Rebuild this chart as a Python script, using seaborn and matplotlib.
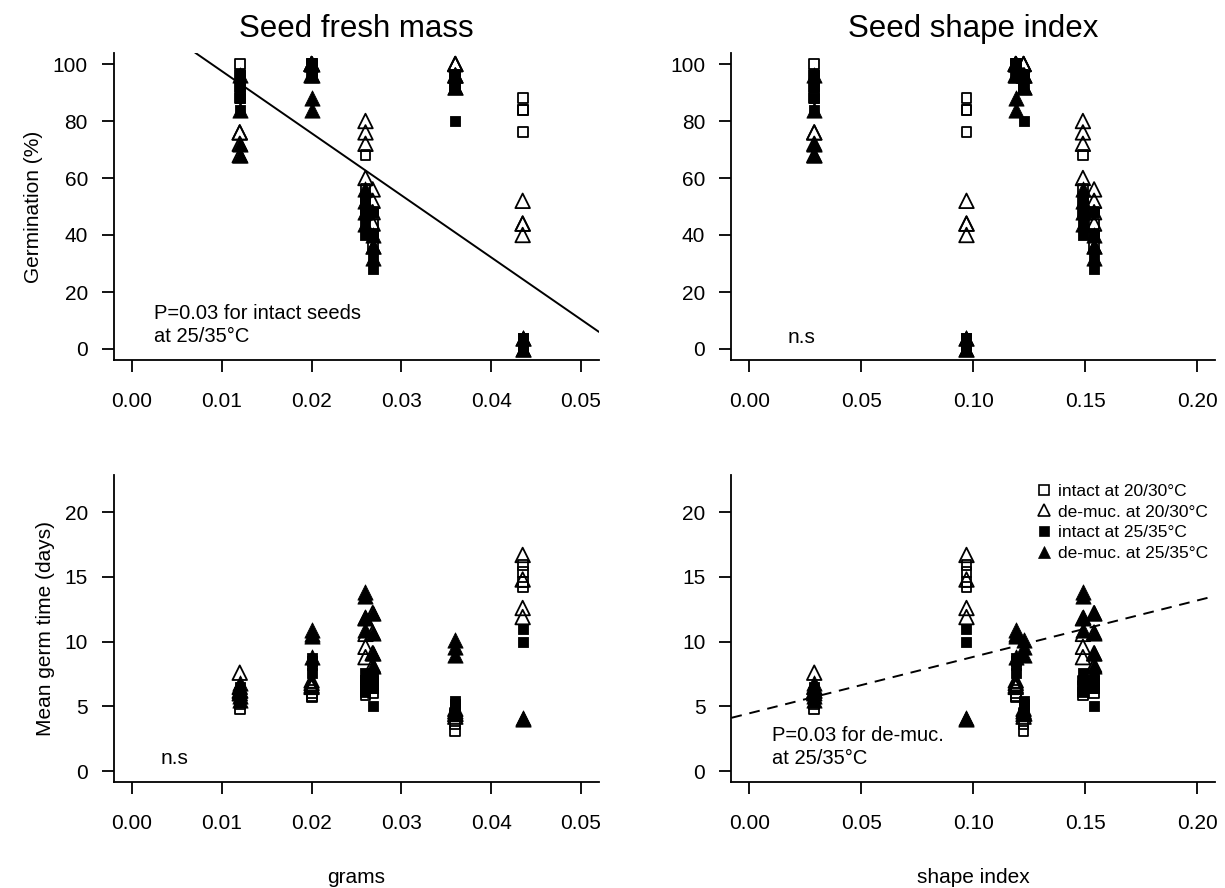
import numpy as np
import pandas as pd
import matplotlib
matplotlib.use("Agg")
import matplotlib.pyplot as plt
from matplotlib.lines import Line2D
import seaborn as sns

# six species: seed traits
seed_mass = [0.012, 0.020, 0.026, 0.0268, 0.036, 0.0435]
shape_index = [0.029, 0.119, 0.149, 0.154, 0.1225, 0.097]

# germination (%), 4 replicates per species and treatment
germ_intact_2030 = [[100, 92, 96, 88], [100, 100, 96, 100], [68, 56, 52, 48],
                    [48, 40, 36, 44], [96, 92, 96, 92], [88, 84, 76, 84]]
germ_demuc_2030 = [[76, 76, 72, 68], [100, 96, 100, 100], [80, 76, 72, 60],
                   [56, 52, 44, 48], [100, 100, 96, 100], [52, 44, 40, 44]]
germ_intact_2535 = [[96, 88, 84, 92], [100, 96, 100, 96], [40, 44, 48, 52],
                    [48, 40, 32, 28], [80, 96, 92, 96], [0, 4, 0, 4]]
germ_demuc_2535 = [[72, 68, 96, 84], [88, 84, 96, 100], [56, 52, 48, 44],
                   [40, 36, 32, 36], [96, 92, 96, 92], [4, 0, 0, 4]]

# mean germination time (days)
mgt_intact_2030 = [[4.8, 5.5, 6.0, 5.2], [5.7, 6.0, 5.8, 6.3], [6.1, 6.6, 7.0, 5.9],
                   [6.0, 6.6, 7.0, 6.4], [3.6, 3.1, 4.3, 4.5], [15.9, 15.4, 14.2, 14.6]]
mgt_demuc_2030 = [[7.6, 6.5, 6.2, 6.0], [7.0, 6.5, 6.8, 6.6], [9.6, 8.8, 10.6, 11.8],
                  [12.2, 10.7, 9.1, 8.2], [4.8, 4.4, 4.6, 4.2], [16.7, 14.8, 12.6, 11.9]]
mgt_intact_2535 = [[6.0, 6.5, 5.8, 6.3], [8.7, 8.2, 7.6, 8.5], [7.6, 7.0, 6.2, 6.8],
                   [6.8, 7.2, 6.4, 5.0], [5.4, 5.0, 4.6, 5.2], [np.nan, 11.0, np.nan, 10.0]]
mgt_demuc_2535 = [[6.8, 6.3, 5.5, 5.8], [10.9, 10.4, 10.6, 8.8], [13.8, 13.5, 11.9, 10.9],
                  [12.2, 10.7, 9.1, 8.1], [10.1, 9.6, 9.0, 4.5], [4.1, np.nan, np.nan, 4.0]]

treatments = ["intact at 20/30°C", "de-muc. at 20/30°C", "intact at 25/35°C", "de-muc. at 25/35°C"]
germ_sets = [germ_intact_2030, germ_demuc_2030, germ_intact_2535, germ_demuc_2535]
mgt_sets = [mgt_intact_2030, mgt_demuc_2030, mgt_intact_2535, mgt_demuc_2535]

# fitted lines (intercept, slope)
fit_germ_mass = (119.3, -2179.0)
fit_mgt_shape = (4.46, 43.6)

rows = []
for t, gs, ms in zip(treatments, germ_sets, mgt_sets):
    for i in range(len(seed_mass)):
        for g, m in zip(gs[i], ms[i]):
            rows.append({"treat": t, "mass": seed_mass[i], "shape": shape_index[i],
                         "germ": g, "mgt": m})
df = pd.DataFrame(rows)

sns.set_theme(style="ticks")
plt.rcParams["font.family"] = ["Liberation Sans", "DejaVu Sans"]
for k in ["text.color", "axes.labelcolor", "xtick.color", "ytick.color", "axes.edgecolor"]:
    plt.rcParams[k] = "black"

# marker style per treatment: (marker, size, filled)
styles = {
    treatments[0]: ("s", 50, False),
    treatments[1]: ("^", 110, False),
    treatments[2]: ("s", 58, True),
    treatments[3]: ("^", 120, True),
}

W, H = 1225, 888
fig = plt.figure(figsize=(W / 100, H / 100), dpi=100)

def px_axes(l, r, t, b):
    return fig.add_axes([l / W, 1 - b / H, (r - l) / W, (b - t) / H])

ax_tl = px_axes(114, 599, 52.6, 360.4)
ax_tr = px_axes(731.4, 1215, 52.6, 360.4)
ax_bl = px_axes(114, 599, 475, 782.4)
ax_br = px_axes(731.4, 1215, 475, 782.4)

panels = [(ax_tl, "mass", "germ"), (ax_tr, "shape", "germ"),
          (ax_bl, "mass", "mgt"), (ax_br, "shape", "mgt")]

for ax, xv, yv in panels:
    for t in treatments:
        mk, s, filled = styles[t]
        sub = df[df["treat"] == t]
        if filled:
            sns.scatterplot(data=sub, x=xv, y=yv, marker=mk, s=s, color="black",
                            edgecolor="black", linewidth=0.6, ax=ax, legend=False, zorder=3)
        else:
            sns.scatterplot(data=sub, x=xv, y=yv, marker=mk, s=s, color="black",
                            facecolor="none", edgecolor="black", linewidth=1.3,
                            ax=ax, legend=False, zorder=3)
    sns.despine(ax=ax)
    for sp in ["left", "bottom"]:
        ax.spines[sp].set_linewidth(1.3)
    ax.tick_params(axis="both", direction="out", length=8.8, width=1.3,
                   labelsize=15, colors="black")
    ax.tick_params(axis="x", pad=14)
    ax.tick_params(axis="y", pad=10)
    ax.set_xlabel("")
    ax.set_ylabel("")

for ax in (ax_tl, ax_bl):
    ax.set_xlim(-0.002, 0.052)
    ax.set_xticks([0.00, 0.01, 0.02, 0.03, 0.04, 0.05])
    ax.set_xticklabels(["0.00", "0.01", "0.02", "0.03", "0.04", "0.05"])
for ax in (ax_tr, ax_br):
    ax.set_xlim(-0.008, 0.208)
    ax.set_xticks([0.00, 0.05, 0.10, 0.15, 0.20])
    ax.set_xticklabels(["0.00", "0.05", "0.10", "0.15", "0.20"])
for ax in (ax_tl, ax_tr):
    ax.set_ylim(-4, 104)
    ax.set_yticks([0, 20, 40, 60, 80, 100])
for ax in (ax_bl, ax_br):
    ax.set_ylim(-0.88, 22.88)
    ax.set_yticks([0, 5, 10, 15, 20])

# regression lines
ax_tl.axline((0, fit_germ_mass[0]), slope=fit_germ_mass[1], color="black", lw=1.4, zorder=2)
ax_br.axline((0, fit_mgt_shape[0]), slope=fit_mgt_shape[1], color="black", lw=1.4,
             linestyle=(0, (5.5, 4)), zorder=2)

# annotations
ax_tl.text(0.0025, 8.3, "P=0.03 for intact seeds\nat 25/35°C", fontsize=14.5,
           ha="left", va="center", linespacing=1.25)
ax_tr.text(0.0173, 4.0, "n.s", fontsize=15, ha="left", va="center")
ax_bl.text(0.0032, 1.0, "n.s", fontsize=15, ha="left", va="center")
ax_br.text(0.0100, 1.85, "P=0.03 for de-muc.\nat 25/35°C", fontsize=14.5,
           ha="left", va="center", linespacing=1.25)

# titles and axis labels
ax_tl.set_title("Seed fresh mass", fontsize=22.5, pad=11.5)
ax_tr.set_title("Seed shape index", fontsize=22.5, pad=11.5)
ax_tl.set_ylabel("Germination (%)", fontsize=15, labelpad=7)
ax_bl.set_ylabel("Mean germ time (days)", fontsize=15, labelpad=7)
fig.text((114 + 599) / 2 / W, 1 - 877 / H, "grams", fontsize=15, ha="center", va="center")
fig.text((731.4 + 1215) / 2 / W, 1 - 877 / H, "shape index", fontsize=15, ha="center", va="center")

# legend
handles = []
for t in treatments:
    mk, s, filled = styles[t]
    handles.append(Line2D([], [], linestyle="none", marker=mk,
                          markersize=7 if mk == "s" else 9,
                          markerfacecolor="black" if filled else "none",
                          markeredgecolor="black", markeredgewidth=1.2 if not filled else 0.5,
                          label=t))
ax_br.legend(handles=handles, loc="upper right", bbox_to_anchor=(1.0, 0.995),
             frameon=False, fontsize=12.5, handlelength=0.8, handletextpad=0.4,
             labelspacing=0.33, borderaxespad=0)

fig.savefig("out.png", dpi=100)
